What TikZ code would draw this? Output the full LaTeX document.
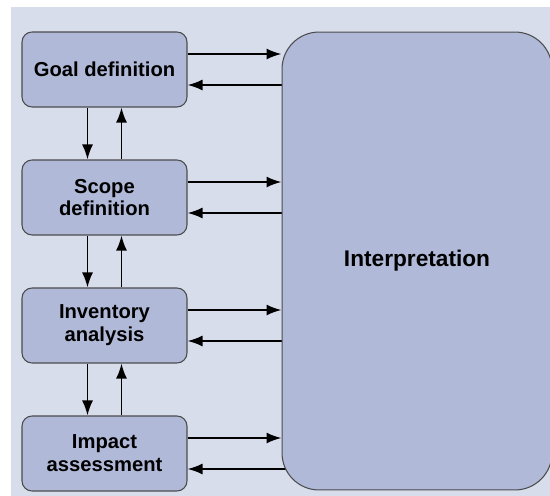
\documentclass[tikz,border=0pt]{standalone}
\usepackage{fontspec}
\setmainfont{Liberation Sans}
\usetikzlibrary{arrows.meta,backgrounds}
\definecolor{paleblue}{RGB}{216,221,235}
\definecolor{stageblue}{RGB}{176,185,215}

\tikzset{
	stage/.style={draw=black!70, fill=stageblue, line width=0.6pt, rounded corners=0.2cm,
		minimum width=3.3cm, minimum height=1.5cm, align=center,
		font=\bfseries\fontsize{11.5}{13}\selectfont},
	flow/.style={-{Latex[length=0.3cm,width=0.22cm]}, line width=1.1pt}
}

\begin{document}
\begin{tikzpicture}[x=0.02cm,y=-0.02cm]
		\def\offset{0.31cm}
		\def\gap{0.34cm}

		\useasboundingbox (0,0) rectangle (550,496);
		\begin{scope}[on background layer]
				\fill[paleblue] (11,7) rectangle (550,496);
		\end{scope}

		\node[stage, rounded corners=0.74cm, minimum width=5.4cm, minimum height=9.16cm,
			font=\bfseries\fontsize{12.9}{15}\selectfont] (interp) at (417,261) {Interpretation};

		\foreach \i/\name in {0/{Goal definition},1/{Scope\\definition},2/{Inventory\\analysis},3/{Impact\\assessment}}
		{
				\node[stage] (S_\i) at (104.5,69.5+128*\i) {\name};
				\coordinate (S_\i out) at ([yshift=\offset]S_\i.east);
				\coordinate (S_\i back) at ([yshift=-\offset]S_\i.east);
				\begin{scope}[on background layer]
						\draw[flow] (S_\i out) -- (S_\i out -| interp.west);
						\draw[flow] ([xshift=0.1cm]S_\i back -| interp.west) -- (S_\i back);
				\end{scope}
		}
		\foreach \i in {0,...,2}
		{
				\pgfmathtruncatemacro{\j}{\i + 1}
				\draw[flow] ([xshift=-\gap]S_\i.south) -- ([xshift=-\gap]S_\j.north);
				\draw[flow] ([xshift=\gap]S_\j.north) -- ([xshift=\gap]S_\i.south);
		}
\end{tikzpicture}
\end{document}
